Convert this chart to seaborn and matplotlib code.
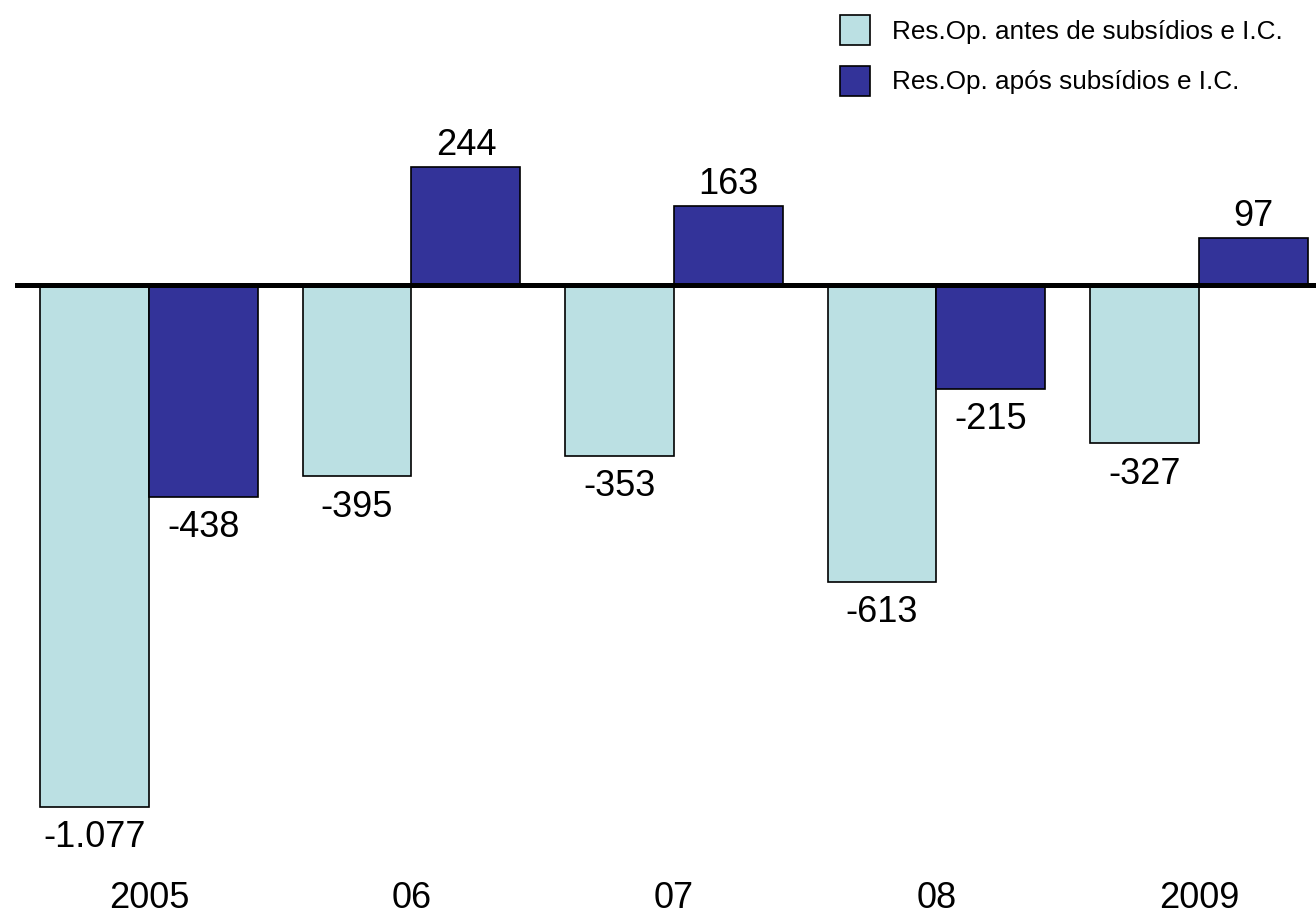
import matplotlib
matplotlib.use("Agg")
import matplotlib.pyplot as plt
from matplotlib.patches import Patch
import seaborn as sns
import pandas as pd

# Operating results (millions), before and after subsidies and compensatory indemnities
years = ["2005", "06", "07", "08", "2009"]
before_subsidies = [-1077, -395, -353, -613, -327]
after_subsidies = [-438, 244, 163, -215, 97]
series_names = ["Res.Op. antes de subsídios e I.C.", "Res.Op. após subsídios e I.C."]
series_colors = ["#BBE0E3", "#333399"]

df = pd.DataFrame({
    "ano": years * 2,
    "serie": [series_names[0]] * len(years) + [series_names[1]] * len(years),
    "valor": before_subsidies + after_subsidies,
})

sns.set_theme(style="white")
plt.rcParams["font.family"] = ["Liberation Sans", "DejaVu Sans"]
plt.rcParams["text.color"] = "black"

W, H = 1316, 921
fig = plt.figure(figsize=(W / 100, H / 100), dpi=100)
ax = fig.add_axes([15 / W, (H - 870) / H, 1 - 15 / W, 870 / H])

sns.barplot(
    data=df, x="ano", y="valor", hue="serie", order=years,
    hue_order=series_names, palette=series_colors, saturation=1,
    width=0.83, edgecolor="black", linewidth=1.2, legend=False, ax=ax,
)

ax.set_xlim(-0.5105, 4.446)
ax.set_ylim(-1207, 588)

LABEL_SIZE = 26

# Value labels
def fmt(v):
    return f"{v:,}".replace(",", ".")

for container, values in zip(ax.containers, [before_subsidies, after_subsidies]):
    for bar, v in zip(container, values):
        xc = bar.get_x() + bar.get_width() / 2
        if v >= 0:
            ax.annotate(fmt(v), (xc, v), xytext=(0, 3), textcoords="offset points",
                        ha="center", va="bottom", fontsize=LABEL_SIZE, color="black")
        else:
            ax.annotate(fmt(v), (xc, v), xytext=(0, -9.5), textcoords="offset points",
                        ha="center", va="top", fontsize=LABEL_SIZE, color="black")

# Zero baseline
ax.axhline(0, color="black", linewidth=3.6, solid_capstyle="round", zorder=5)

ax.set_xlabel("")
ax.set_ylabel("")
ax.set_yticks([])
ax.tick_params(axis="x", length=0, pad=8, labelsize=LABEL_SIZE, labelcolor="black")
for s in ax.spines.values():
    s.set_visible(False)

handles = [Patch(facecolor=c, edgecolor="black", linewidth=1.2) for c in series_colors]
fig.legend(
    handles, series_names, loc="upper left",
    bbox_to_anchor=(840 / W, 1 - 15 / H), frameon=False, fontsize=18.8,
    labelcolor="black",
    handlelength=1.15, handleheight=1.40, handletextpad=0.85,
    labelspacing=0.78, borderpad=0, borderaxespad=0,
)

fig.savefig("out.png", dpi=100)
